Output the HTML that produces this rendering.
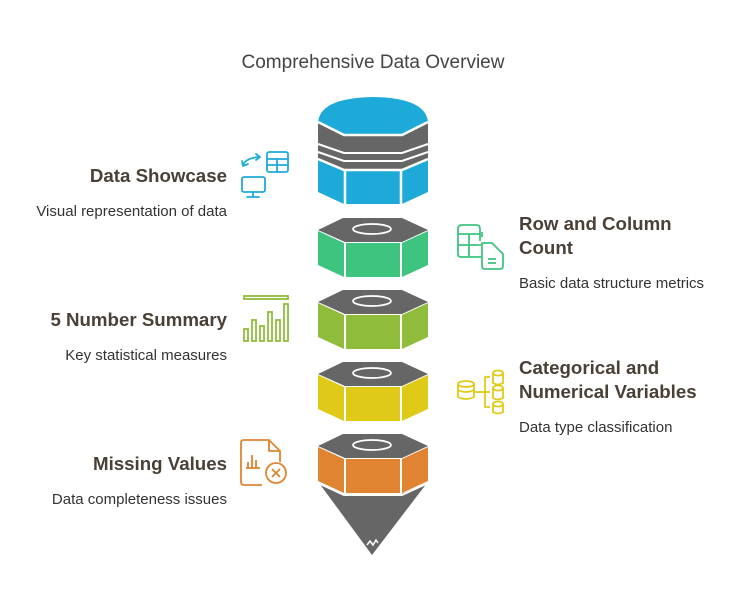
<!DOCTYPE html>
<html><head><meta charset="utf-8"><style>
html,body{margin:0;padding:0;background:#fff;}
svg{display:block;font-family:"Liberation Sans",sans-serif;}
</style></head><body>
<svg width="734" height="607" viewBox="0 0 734 607" xmlns="http://www.w3.org/2000/svg">
<text x="373" y="68" text-anchor="middle" font-size="19" fill="#444">Comprehensive Data Overview</text>

<!-- Blue cylinder -->
<path d="M318,124 Q318,98 373,97 Q428,98 428,124 L428,192 L402,204 L344,204 L318,192 Z" fill="#1eaad9"/>
<polygon points="318,122 344,136 400,136 428,122 428,158 402,169 344,169 318,158" fill="#666"/>
<polyline points="318,122 344,135 402,135 428,122" fill="none" stroke="#fff" stroke-width="2.5"/>
<polyline points="318,144 344,153 402,153 428,144" fill="none" stroke="#fff" stroke-width="2"/>
<polyline points="318,152 344,161 402,161 428,152" fill="none" stroke="#fff" stroke-width="2"/>
<polyline points="318,159 344,170 402,170 428,159" fill="none" stroke="#fff" stroke-width="2.5"/>
<line x1="345" y1="170" x2="345" y2="205" stroke="#fff" stroke-width="2.5"/>
<line x1="401" y1="170" x2="401" y2="205" stroke="#fff" stroke-width="2.5"/>

<!-- Hex segments -->
<g transform="translate(0,218)">
 <polygon points="318,12 343,0 402,0 428,12 402,24 345,24" fill="#666"/>
 <polygon points="318,13 344,25 344,59 318,47" fill="#3ec47f"/>
 <rect x="346" y="25" width="54" height="34" fill="#3ec47f"/>
 <polygon points="402,25 428,13 428,47 402,59" fill="#3ec47f"/>
 <ellipse cx="372" cy="11" rx="19" ry="5" fill="none" stroke="#fff" stroke-width="1.8"/>
</g>
<g transform="translate(0,290)">
 <polygon points="318,12 343,0 402,0 428,12 402,24 345,24" fill="#666"/>
 <polygon points="318,13 344,25 344,59 318,47" fill="#8fbd3b"/>
 <rect x="346" y="25" width="54" height="34" fill="#8fbd3b"/>
 <polygon points="402,25 428,13 428,47 402,59" fill="#8fbd3b"/>
 <ellipse cx="372" cy="11" rx="19" ry="5" fill="none" stroke="#fff" stroke-width="1.8"/>
</g>
<g transform="translate(0,362)">
 <polygon points="318,12 343,0 402,0 428,12 402,24 345,24" fill="#666"/>
 <polygon points="318,13 344,25 344,59 318,47" fill="#dfcb17"/>
 <rect x="346" y="25" width="54" height="34" fill="#dfcb17"/>
 <polygon points="402,25 428,13 428,47 402,59" fill="#dfcb17"/>
 <ellipse cx="372" cy="11" rx="19" ry="5" fill="none" stroke="#fff" stroke-width="1.8"/>
</g>
<g transform="translate(0,434)">
 <polygon points="318,12 343,0 402,0 428,12 402,24 345,24" fill="#666"/>
 <polygon points="318,13 344,25 344,59 318,47" fill="#e08432"/>
 <rect x="346" y="25" width="54" height="34" fill="#e08432"/>
 <polygon points="402,25 428,13 428,47 402,59" fill="#e08432"/>
 <ellipse cx="372" cy="11" rx="19" ry="5" fill="none" stroke="#fff" stroke-width="1.8"/>
</g>
<!-- Cone -->
<polygon points="319,483 344,494 401,494 427,483 372,555" fill="#666"/>
<polyline points="318,483 344,495 402,495 428,483" fill="none" stroke="#fff" stroke-width="2"/>
<polyline points="367,545 370,541 373,545 376,540 378,543" fill="none" stroke="#fff" stroke-width="1.5"/>

<!-- Left labels -->
<g font-weight="bold" font-size="18.7" fill="#4a4036" text-anchor="end">
<text x="227" y="182">Data Showcase</text>
<text x="227" y="326">5 Number Summary</text>
<text x="227" y="470">Missing Values</text>
</g>
<g font-size="15" fill="#333" text-anchor="end">
<text x="227" y="216">Visual representation of data</text>
<text x="227" y="360">Key statistical measures</text>
<text x="227" y="504">Data completeness issues</text>
</g>
<!-- Right labels -->
<g font-weight="bold" font-size="18.7" fill="#4a4036">
<text x="519" y="230">Row and Column</text>
<text x="519" y="254">Count</text>
<text x="519" y="374">Categorical and</text>
<text x="519" y="398">Numerical Variables</text>
</g>
<g font-size="15" fill="#333">
<text x="519" y="288">Basic data structure metrics</text>
<text x="519" y="432">Data type classification</text>
</g>

<!-- Icons -->
<g fill="none" stroke="#1eaad9" stroke-width="1.8" stroke-linejoin="round" stroke-linecap="round">
 <rect x="267" y="152" width="21" height="20" rx="2"/>
 <line x1="267" y1="159" x2="288" y2="159"/><line x1="267" y1="165" x2="288" y2="165"/><line x1="277" y1="159" x2="277" y2="172"/>
 <path d="M243,165 Q246,158 259,157"/><path d="M256,154 L260,157 L256,160"/><path d="M242,161 L243,166 L248,164"/>
 <rect x="242" y="177" width="23" height="15" rx="2"/>
 <line x1="253" y1="192" x2="253" y2="197"/><line x1="247" y1="197" x2="259" y2="197"/>
</g>
<g fill="none" stroke="#8fbd3b" stroke-width="1.8">
 <rect x="244" y="296" width="44" height="3"/>
 <rect x="244" y="329" width="4" height="12"/><rect x="252" y="320" width="4" height="21"/>
 <rect x="260" y="326" width="4" height="15"/><rect x="268" y="312" width="4" height="29"/>
 <rect x="276" y="320" width="4" height="21"/><rect x="284" y="304" width="4" height="37"/>
</g>
<g fill="none" stroke="#3ec47f" stroke-width="1.8" stroke-linejoin="round">
 <path d="M480,241 V229 Q480,225 476,225 H462 Q458,225 458,229 V254 Q458,257 461,257 H481"/>
 <line x1="458" y1="234" x2="480" y2="234"/><line x1="458" y1="245" x2="481" y2="245"/><line x1="469" y1="234" x2="469" y2="257"/><line x1="482" y1="232" x2="482" y2="237"/>
 <path d="M482,243 H492 L503,254 V266 Q503,269 500,269 H485 Q482,269 482,266 Z"/>
 <line x1="488" y1="259" x2="496" y2="259"/><line x1="488" y1="263" x2="496" y2="263"/>
</g>
<g fill="none" stroke="#dfcb17" stroke-width="1.8">
 <ellipse cx="466" cy="384" rx="8" ry="3"/><path d="M458,384 V397 Q466,401 474,397 V384"/><path d="M458,390 Q466,394 474,390"/>
 <line x1="474" y1="392" x2="485" y2="392"/><path d="M490,377 H485 V407 H490"/><line x1="485" y1="392" x2="490" y2="392"/>
 <ellipse cx="498" cy="373" rx="5" ry="2.5"/><path d="M493,373 V383 Q498,386 503,383 V373"/>
 <ellipse cx="498" cy="388" rx="5" ry="2.5"/><path d="M493,388 V398 Q498,401 503,398 V388"/>
 <ellipse cx="498" cy="404" rx="5" ry="2.5"/><path d="M493,404 V412 Q498,415 503,412 V404"/>
</g>
<g fill="none" stroke="#e08432" stroke-width="1.8" stroke-linejoin="round">
 <path d="M262,485 H244 Q241,485 241,482 V443 Q241,440 244,440 H269 L280,451 V462"/>
 <path d="M269,440 V451 H280"/>
 <line x1="248" y1="468" x2="248" y2="462"/><line x1="252" y1="468" x2="252" y2="455"/><line x1="256" y1="468" x2="256" y2="460"/><line x1="246" y1="468" x2="260" y2="468"/>
 <circle cx="276" cy="473" r="10"/><line x1="272" y1="469" x2="280" y2="477"/><line x1="280" y1="469" x2="272" y2="477"/>
</g>
</svg>
</body></html>
